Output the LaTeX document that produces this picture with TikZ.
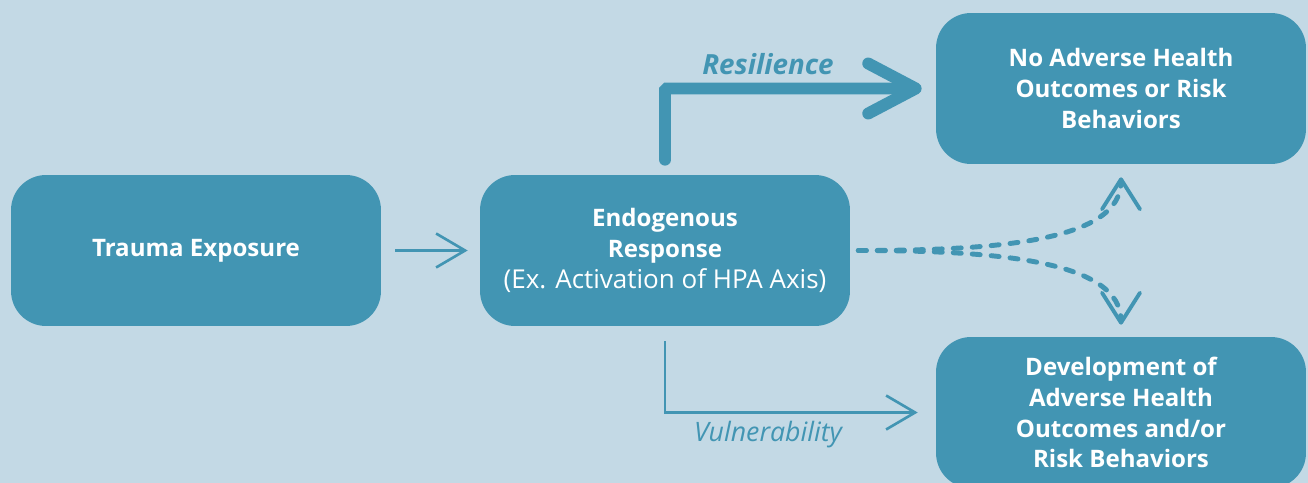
\documentclass[tikz,border=0pt]{standalone}
\usepackage{fontspec}
\setmainfont{Open Sans}
\usetikzlibrary{arrows.meta}
\definecolor{paleblue}{RGB}{195,217,229}
\definecolor{tealblue}{RGB}{66,149,179}

\begin{document}
\begin{tikzpicture}[x=0.02cm, y=-0.02cm,
    box/.style={rectangle, rounded corners=0.7cm, fill=tealblue, minimum width=7.4cm,
      minimum height=3.02cm, inner sep=0pt, text=white, align=center,
      font=\fontsize{13.7}{17.6}\selectfont\bfseries},
    thinarrow/.style={draw=tealblue, line width=1.5pt, -{Straight Barb[length=5.8mm, width=6.8mm]}},
    thickarrow/.style={draw=tealblue, line width=6.8pt, line cap=round, rounded corners=1pt,
      -{Straight Barb[length=9.5mm, width=10mm, round]}},
    dashedarrow/.style={draw=tealblue, line width=2.8pt, line cap=round, dash pattern=on 0.16cm off 0.22cm,
      -{Straight Barb[length=6mm, width=7.6mm, round, line width=2.2pt]}},
    pathlabel/.style={text=tealblue, font=\fontsize{15.2}{17}\selectfont\itshape}]
  \useasboundingbox (0,0) rectangle (1308,483);
  \clip (0,0) rectangle (1308,483);
  \fill[paleblue] (0,0) rectangle (1308,483);

  \node[box] (trauma) at (196, 250.5) {Trauma Exposure};
  \node[box] (endo) at (665, 250.5) {Endogenous\\Response\\{\mdseries\fontsize{14.8}{17.6}\selectfont (Ex. Activation of HPA Axis)}};
  \node[box] (noadv) at (1121, 88.5) {No Adverse Health\\Outcomes or Risk\\Behaviors};
  \node[box] (devel) at (1121, 412.5) {Development of\\Adverse Health\\Outcomes and/or\\Risk Behaviors};

  \node[pathlabel, font=\fontsize{15.8}{17}\selectfont\bfseries\itshape] (resil) at (768, 64) {Resilience};
  \node[pathlabel] (vulner) at (768, 435) {Vulnerability};

  \draw[thinarrow] ([xshift=0.28cm]trauma.east) -- ([xshift=-0.24cm]endo.west);
  \draw[thickarrow] ([yshift=0.3cm]endo.north) |- ([xshift=-0.28cm]noadv.west);
  \draw[thinarrow] ([yshift=-0.3cm]endo.south) |- ([xshift=-0.36cm]devel.west);

  \draw[dashedarrow] ([xshift=0.16cm]endo.east) to[out=0, in=-90, out looseness=1.3, in looseness=0.6]
    ([yshift=-0.26cm]noadv.south);
  \draw[dashedarrow] ([xshift=0.16cm]endo.east) to[out=0, in=90, out looseness=1.3, in looseness=0.6]
    ([yshift=0.24cm]devel.north);
\end{tikzpicture}
\end{document}
